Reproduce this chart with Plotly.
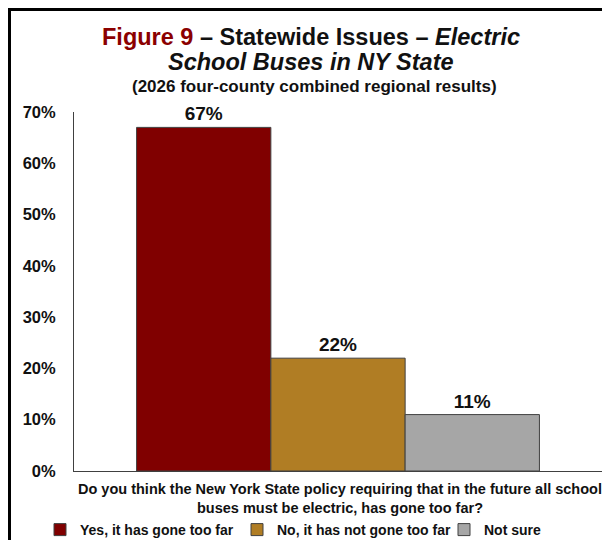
import plotly.graph_objects as go

categories = ["Yes, it has gone too far", "No, it has not gone too far", "Not sure"]
values = [67, 22, 11]
colors = ["#800000", "#B07D24", "#A6A6A6"]
y_ticks = [0, 10, 20, 30, 40, 50, 60, 70]
y_tick_labels = [f"{v}%" for v in y_ticks]
question = "Do you think the New York State policy requiring that in the future all school<br>buses must be electric, has gone too far?"

FONT = "Arial, Liberation Sans, sans-serif"
OFF = 8  # page body margin

# page-pixel layout targets
W, H = 610 - OFF, 540 - OFF
PL, PR, PT, PB = 74, 602, 112, 471
L, R, T, B = PL - OFF, W - (PR - OFF), PT - OFF, H - (PB - OFF)
pw, ph = W - L - R, H - T - B

def px2x(px):
    return (px - OFF - L) / pw

def py2y(py):
    return (H - B - (py - OFF)) / ph

legend_names = ["legend", "legend2", "legend3"]
legend_text_x = [80, 277, 484]

fig = go.Figure()
for name, v, c, lg in zip(categories, values, colors, legend_names):
    fig.add_trace(go.Bar(
        x=["Q"], y=[v], name=name, legend=lg,
        marker=dict(color=c, line=dict(color="#404040", width=1)),
        text=[f"{v}%"], textposition="outside", cliponaxis=False,
        textfont=dict(family=FONT, size=19, color="#111111", weight="bold"),
    ))

legend_common = dict(
    orientation="h", yanchor="middle", xanchor="left",
    font=dict(family=FONT, size=14, color="#111111", weight="bold"),
    itemwidth=30, bgcolor="rgba(0,0,0,0)", borderwidth=0,
)
legends = {}
for lg, tx in zip(legend_names, legend_text_x):
    legends[lg] = dict(legend_common, x=px2x(tx - 40), y=py2y(530))

fig.update_layout(
    width=W, height=H,
    margin=dict(l=L, r=R, t=T, b=B, pad=0, autoexpand=False),
    paper_bgcolor="white", plot_bgcolor="white",
    barmode="group", bargap=0.237, bargroupgap=0,
    font=dict(family=FONT, color="#111111"),
    showlegend=True,
    **legends,
    xaxis=dict(
        showticklabels=False, ticks="", showgrid=False,
        showline=True, linecolor="#404040", linewidth=1, zeroline=False,
    ),
    yaxis=dict(
        range=[0, 70], tickvals=y_ticks, ticktext=y_tick_labels,
        showgrid=False, zeroline=False, showline=True, linecolor="#404040", linewidth=1,
        ticks="", ticklabelstandoff=14,
        tickfont=dict(family=FONT, size=16.5, color="#111111", weight="bold"),
    ),
)

anns = [
    dict(text="<span style='color:#8B0000'>Figure 9</span> – Statewide Issues – <i>Electric</i>",
         x=px2x(311), y=py2y(37), size=23.5),
    dict(text="<i>School Buses in NY State</i>", x=px2x(311), y=py2y(62), size=23.5),
    dict(text="(2026 four-county combined regional results)", x=px2x(314), y=py2y(87), size=17),
    dict(text=question, x=px2x(340), y=py2y(498), size=14.5),
]
for a in anns:
    fig.add_annotation(
        text=a["text"], x=a["x"], y=a["y"], xref="paper", yref="paper",
        xanchor="center", yanchor="middle", showarrow=False,
        font=dict(family=FONT, size=a["size"], color="#111111", weight="bold"),
    )

# frame lines (top and left)
fig.add_shape(type="line", xref="paper", yref="paper",
              x0=px2x(8), x1=px2x(612), y0=py2y(9.5), y1=py2y(9.5),
              line=dict(color="black", width=3))
fig.add_shape(type="line", xref="paper", yref="paper",
              x0=px2x(9.5), x1=px2x(9.5), y0=py2y(8), y1=py2y(542),
              line=dict(color="black", width=3))

fig.write_html("out.html")
